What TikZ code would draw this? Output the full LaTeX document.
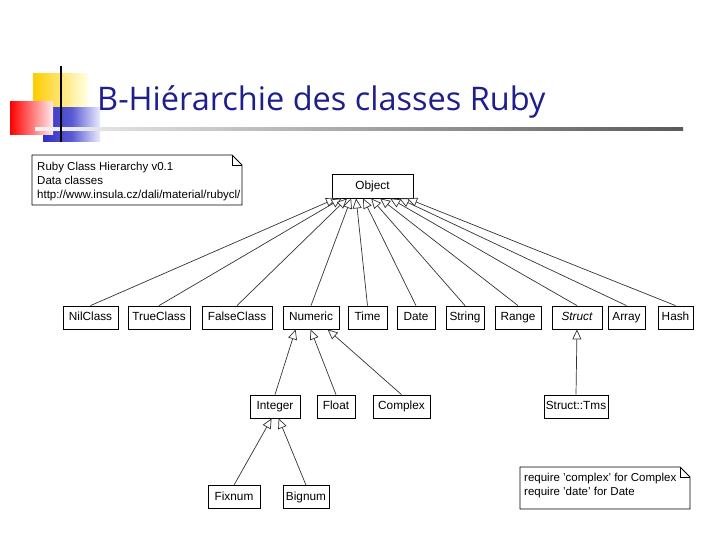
\documentclass[tikz,border=0pt]{standalone}
\usepackage{fontspec}
\setmainfont{Liberation Sans}
\newfontfamily\titlefont{Open Sans}
\usetikzlibrary{arrows.meta,calc}
\definecolor{titleblue}{HTML}{1E1E8C}
\definecolor{linegray}{HTML}{333333}
\definecolor{logoyellow}{HTML}{FFCC00}
\definecolor{logoblue}{HTML}{3030C8}
\tikzset{
  cls/.style={draw=black, line width=0.8pt, fill=white, minimum height=23pt,
    inner sep=0pt, text height=8.6pt, text depth=2.4pt,
    font=\fontsize{11.8}{14}\selectfont},
  inherit/.style={draw=linegray, line width=0.7pt,
    -{Triangle[length=10pt, width=9pt, fill=white, line width=0.7pt]}},
  notebox/.style={draw=black, line width=0.8pt, fill=white},
  notetext/.style={font=\fontsize{11.5}{14}\selectfont, align=left, inner sep=0pt}
}
\begin{document}
\begin{tikzpicture}[x=1pt, y=-1pt]
\useasboundingbox (0,0) rectangle (720,540);

% logo squares
\shade[left color=logoyellow, right color=yellow!10] (33,74) rectangle (88,107);
\shade[left color=logoblue, right color=blue!8, middle color=logoblue!80] (43,108) rectangle (100,142);
\shade[shading angle=45, left color=red, right color=red!8] (10,102) rectangle (53,135);
\shade[left color=gray!10, right color=gray!70!black] (35,128) rectangle (683,130.5);
\draw[black, line width=2.2pt] (61,66) -- (61,142);

% title
\node[anchor=base west, inner sep=0pt, text=titleblue,
  font=\titlefont\fontsize{32.5}{36}\selectfont] (title) at (97,111)
  {B-Hiérarchie des classes Ruby};

% notes
\draw[notebox] (32,155) -- (232,155) -- (242,165) -- (242,205) -- (32,205) -- cycle;
\draw[line width=0.8pt] (232,155) -- (232,165) -- (242,165);
\node[notetext, anchor=north west] (note1) at (37,161.5)
  {Ruby Class Hierarchy v0.1\\Data classes\\http://www.insula.cz/dali/material/rubycl/};

\draw[notebox] (520,467) -- (680,467) -- (690,477) -- (690,509) -- (520,509) -- cycle;
\draw[line width=0.8pt] (680,467) -- (680,477) -- (690,477);
\node[notetext, anchor=north west] (note2) at (524,472.5)
  {require 'complex' for Complex\\require 'date' for Date};

% classes
\node[cls, minimum width=81pt, minimum height=24pt] (object) at (372.5,186) {Object};

\node[cls, minimum width=55pt] (nil) at (90.5,317.5) {NilClass};
\node[cls, minimum width=62pt] (true) at (159,317.5) {TrueClass};
\node[cls, minimum width=70pt] (false) at (237,317.5) {FalseClass};
\node[cls, minimum width=56pt] (numeric) at (311,317.5) {Numeric};
\node[cls, minimum width=39pt] (time) at (367.5,317.5) {Time};
\node[cls, minimum width=38pt] (date) at (416,317.5) {Date};
\node[cls, minimum width=38pt] (string) at (465,317.5) {String};
\node[cls, minimum width=46pt] (range) at (518,317.5) {Range};
\node[cls, minimum width=50pt] (struct) at (577,317.5) {\itshape Struct};
\node[cls, minimum width=37pt] (array) at (626.5,317.5) {Array};
\node[cls, minimum width=35pt] (hash) at (675.5,317.5) {Hash};

\node[cls, minimum width=50pt] (integer) at (275,406.5) {Integer};
\node[cls, minimum width=38pt] (float) at (336,406.5) {Float};
\node[cls, minimum width=57pt] (complex) at (401.5,406.5) {Complex};
\node[cls, minimum width=64pt] (tms) at (576,406.5) {Struct::Tms};

\node[cls, minimum width=52pt] (fixnum) at (234,497) {Fixnum};
\node[cls, minimum width=46pt] (bignum) at (306,497) {Bignum};

% attachment points on the parents
\foreach \name/\dx in {nil/4.5, true/10, false/15.5, numeric/19.5, time/24.5,
    date/31.5, string/39.5, range/48.5, struct/58.5, array/67.5, hash/75.5}
  \coordinate (obj-\name) at ($(object.south west)+(\dx,0)$);
\coordinate (num-int) at ($(numeric.south west)+(13,0)$);
\coordinate (num-flt) at ($(numeric.south west)+(28,0)$);
\coordinate (num-cpx) at ($(numeric.south west)+(45,0)$);
\coordinate (int-fix) at ($(integer.south west)+(22,0)$);
\coordinate (int-big) at ($(integer.south west)+(29,0)$);

% inheritance
\foreach \name in {nil,true,false,numeric,time,date,string,range,struct,array,hash}
  \draw[inherit] (\name.north) -- (obj-\name);
\draw[inherit] (integer.north) -- (num-int);
\draw[inherit] (float.north) -- (num-flt);
\draw[inherit] (complex.north) -- (num-cpx);
\draw[inherit] (fixnum.north) -- (int-fix);
\draw[inherit] (bignum.north) -- (int-big);
\draw[inherit] (tms.north) -- (struct.south);
\end{tikzpicture}
\end{document}
